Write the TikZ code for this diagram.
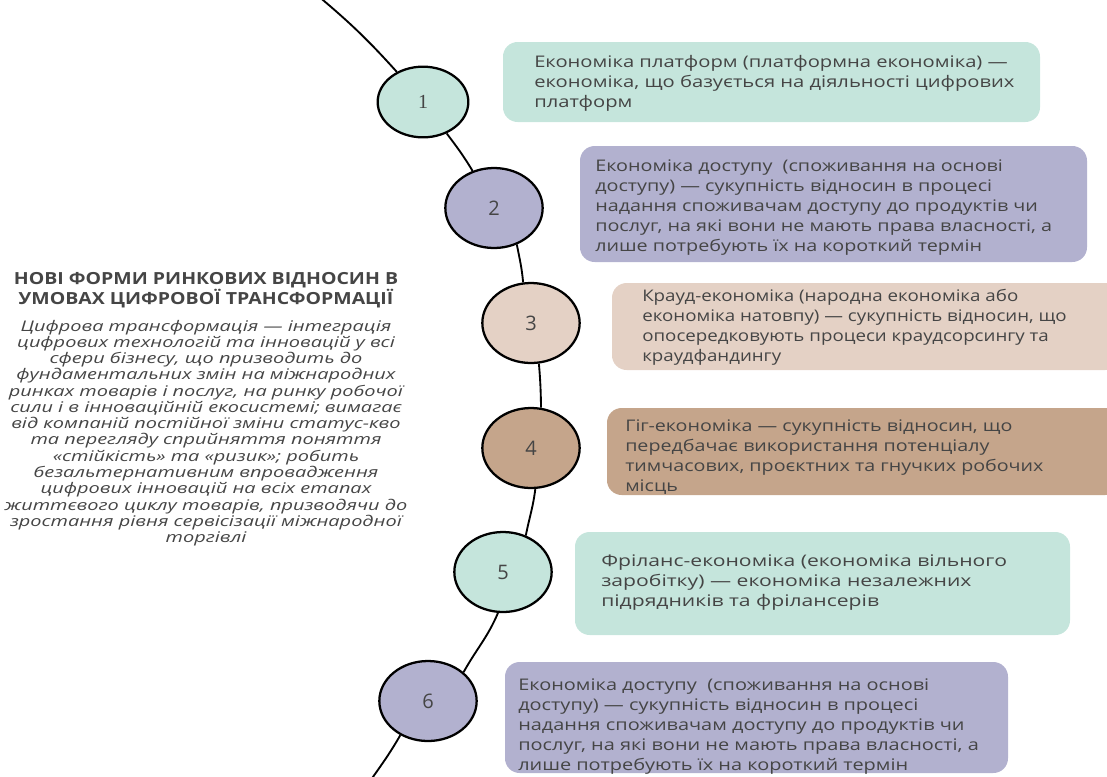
\documentclass[tikz,border=0pt]{standalone}
\usepackage{fontspec}
\setmainfont{Open Sans}
\newfontfamily\titlefont{Open Sans}[FakeStretch=1.17]
\newfontfamily\defnfont{Open Sans}[FakeStretch=1.36]
\newfontfamily\numfont{Liberation Serif}
\usetikzlibrary{shapes.geometric}
\definecolor{mint}{HTML}{C5E5DC}
\definecolor{lavender}{HTML}{B2B1CF}
\definecolor{beige}{HTML}{E4D1C5}
\definecolor{brown}{HTML}{C5A58B}
\definecolor{inkgray}{HTML}{454545}
\begin{document}
\begin{tikzpicture}[x=0.75pt, y=0.75pt,
    every node/.style={text=inkgray},
    stage/.style={ellipse, draw=black, line width=1.7pt, minimum width=73pt, minimum height=60pt,
      font=\fontsize{15}{18}\selectfont},
    card/.style={rounded corners=11pt, inner sep=0pt},
    cardtext/.style={anchor=west, align=left, inner sep=0pt,
      font=\fontsize{12}{15}\selectfont\addfontfeature{FakeStretch=#1}},
    cardtext/.default=1.26,
    link/.style={line width=1.4pt}]

  \path[use as bounding box, clip] (0,0) rectangle (1107,-776);

  % title and definition
  \node[align=center, font=\titlefont\bfseries\fontsize{12.5}{14}\selectfont] (title) at (206,-290)
    {НОВІ ФОРМИ РИНКОВИХ ВІДНОСИН В\\УМОВАХ ЦИФРОВОЇ ТРАНСФОРМАЦІЇ};
  \node[align=center, font=\defnfont\itshape\fontsize{11}{12.2}\selectfont] (defn) at (206,-433)
    {Цифрова трансформація — інтеграція\\
     цифрових технологій та інновацій у всі\\
     сфери бізнесу, що призводить до\\
     фундаментальних змін на міжнародних\\
     ринках товарів і послуг, на ринку робочої\\
     сили і в інноваційній екосистемі; вимагає\\
     від компаній постійної зміни статус-кво\\
     та перегляду сприйняття поняття\\
     «стійкість» та «ризик»; робить\\
     безальтернативним впровадження\\
     цифрових інновацій на всіх етапах\\
     життєвого циклу товарів, призводячи до\\
     зростання рівня сервісізації міжнародної\\
     торгівлі};

  % stages on the arc
  \node[stage, fill=mint, minimum width=68pt, minimum height=53pt] (s1) at (423,-102) {\numfont 1};
  \node[stage, fill=lavender] (s2) at (494,-208) {2};
  \node[stage, fill=beige] (s3) at (531,-323) {3};
  \node[stage, fill=brown] (s4) at (531,-448) {4};
  \node[stage, fill=mint] (s5) at (503,-572) {5};
  \node[stage, fill=lavender] (s6) at (428,-701) {6};
  \coordinate (top) at (317,5);
  \coordinate (bottom) at (368,-784);

  \draw[link] (top) to[out=-40, in=132] (s1.131);
  \draw[link] (s1.-53) to[out=-53, in=121] (s2.120);
  \draw[link] (s2.-58) to[out=-79, in=95] (s3.101);
  \draw[link] (s3.-79) to[out=-85, in=91] (s4.76);
  \draw[link] (s4.-84) to[out=-97, in=79] (s5.58);
  \draw[link] (s5.-97) to[out=-113, in=61] (s6.39);
  \draw[link] (s6.-129) to[out=-120, in=55] (bottom);

  % cards
  \node[card, fill=mint, minimum width=402.75pt, minimum height=60pt] (c1) at (771.5,-82) {};
  \node[card, fill=lavender, minimum width=380.25pt, minimum height=87pt] (c2) at (833.5,-204) {};
  \node[card, fill=beige, minimum width=381pt, minimum height=65.25pt] (c3) at (866,-326.5) {};
  \node[card, fill=brown, minimum width=384.75pt, minimum height=65.25pt] (c4) at (863.5,-451.5) {};
  \node[card, fill=mint, minimum width=371.25pt, minimum height=77.25pt] (c5) at (822.5,-583.5) {};
  \node[card, fill=lavender, minimum width=377.25pt, minimum height=83.25pt] (c6) at (756.5,-717.5) {};

  \node[cardtext] (t1) at (534,-83)
    {Економіка платформ (платформна економіка) —\\
     економіка, що базується на діяльності цифрових\\
     платформ};
  \node[cardtext=1.235] (t2) at (595,-208)
    {Економіка доступу\ \ (споживання на основі\\
     доступу) — сукупність відносин в процесі\\
     надання споживачам доступу до продуктів чи\\
     послуг, на які вони не мають права власності, а\\
     лише потребують їх на короткий термін};
  \node[cardtext=1.17] (t3) at (642,-327)
    {Крауд-економіка (народна економіка або\\
     економіка натовпу) — сукупність відносин, що\\
     опосередковують процеси краудсорсингу та\\
     краудфандингу};
  \node[cardtext=1.23] (t4) at (625,-457)
    {Гіг-економіка — сукупність відносин, що\\
     передбачає використання потенціалу\\
     тимчасових, проєктних та гнучких робочих\\
     місць};
  \node[cardtext=1.32] (t5) at (601,-583)
    {Фріланс-економіка (економіка вільного\\
     заробітку) — економіка незалежних\\
     підрядників та фрілансерів};
  \node[cardtext=1.245] (t6) at (518,-727)
    {Економіка доступу\ \ (споживання на основі\\
     доступу) — сукупність відносин в процесі\\
     надання споживачам доступу до продуктів чи\\
     послуг, на які вони не мають права власності, а\\
     лише потребують їх на короткий термін};
\end{tikzpicture}
\end{document}
